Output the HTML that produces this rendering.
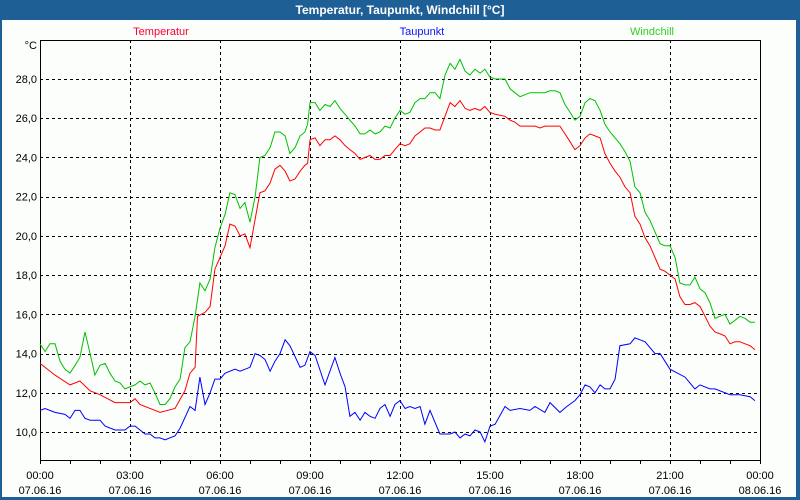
<!DOCTYPE html>
<html><head><meta charset="utf-8">
<style>
html,body{margin:0;padding:0;background:#1e5f96;}
#wrap{position:relative;width:800px;height:500px;overflow:hidden;background:#1e5f96;font-family:"Liberation Sans",sans-serif;}
#title{position:absolute;left:0;top:0;width:800px;height:20px;line-height:20px;text-align:center;color:#fff;font-weight:bold;font-size:12px;}
#panel{position:absolute;left:2px;top:20px;width:794px;height:477px;background:#fcfefc;}
svg{position:absolute;left:0;top:0;}
</style></head><body>
<div id="wrap">
<div id="title">Temperatur, Taupunkt, Windchill [°C]</div>
<div id="panel"></div>
<svg id="chart" width="800" height="500"></svg>
</div>
<script>
const tempHours=[0,0.5,1,1.33,1.67,2,2.5,3,3.17,3.33,4,4.5,4.83,5,5.17,5.25,5.5,5.67,5.83,6,6.17,6.33,6.5,6.67,6.83,7,7.33,7.5,7.67,7.83,8,8.17,8.33,8.5,8.67,8.83,8.92,9,9.17,9.33,9.5,9.67,9.83,10,10.17,10.33,10.5,10.67,10.83,11,11.17,11.33,11.5,11.67,11.83,12,12.17,12.33,12.5,12.67,12.83,13,13.17,13.33,13.5,13.67,13.83,14,14.17,14.33,14.5,14.67,14.83,15,15.17,15.5,15.67,15.83,16,16.5,16.67,16.83,17,17.17,17.33,17.5,17.67,17.83,18,18.17,18.33,18.5,18.67,18.83,19,19.17,19.33,19.5,19.67,19.83,20,20.17,20.33,20.5,20.67,20.83,21,21.17,21.33,21.5,21.67,21.83,22,22.17,22.33,22.5,22.67,22.83,23,23.17,23.33,23.5,23.67,23.83];
const tempValues=[13.5,12.9,12.4,12.6,12.1,11.9,11.5,11.5,11.7,11.4,11.0,11.2,12.1,13.0,13.3,15.9,16.1,16.4,18.3,18.9,19.5,20.6,20.5,20.0,20.1,19.4,22.2,22.3,22.7,23.4,23.6,23.3,22.8,22.9,23.3,23.6,23.7,24.9,25.0,24.6,24.9,24.9,25.1,24.9,24.6,24.4,24.2,23.9,24.0,24.1,23.9,23.9,24.1,24.1,24.4,24.7,24.6,24.7,25.1,25.3,25.5,25.5,25.4,25.4,26.1,26.8,26.6,26.9,26.5,26.4,26.5,26.4,26.6,26.3,26.2,26.1,25.9,25.8,25.6,25.6,25.5,25.6,25.6,25.6,25.6,25.2,24.8,24.4,24.6,25.0,25.2,25.1,25.0,24.2,23.7,23.3,23.0,22.5,22.2,21.0,20.6,19.9,19.5,18.9,18.3,18.2,18.0,17.8,16.9,16.5,16.5,16.6,16.4,15.9,15.4,15.1,15.0,14.9,14.5,14.6,14.6,14.5,14.4,14.2];
const windHours=[0,0.17,0.33,0.5,0.67,0.83,1,1.17,1.33,1.5,1.67,1.83,2,2.17,2.33,2.5,2.67,2.83,3,3.17,3.33,3.5,3.67,3.83,4,4.17,4.33,4.5,4.67,4.83,5,5.17,5.33,5.5,5.67,5.83,6,6.17,6.33,6.5,6.67,6.83,7,7.17,7.33,7.5,7.67,7.83,8,8.17,8.33,8.5,8.67,8.83,8.92,9,9.17,9.33,9.5,9.67,9.83,10,10.17,10.33,10.5,10.67,10.83,11,11.17,11.33,11.5,11.67,11.83,12,12.17,12.33,12.5,12.67,12.83,13,13.17,13.33,13.5,13.67,13.83,14,14.17,14.33,14.5,14.67,14.83,15,15.17,15.5,15.67,15.83,16,16.17,16.33,16.67,16.83,17,17.17,17.33,17.5,17.67,17.83,18,18.17,18.33,18.5,18.67,18.83,19,19.17,19.33,19.5,19.67,19.83,20,20.17,20.33,20.5,20.67,20.83,21,21.17,21.33,21.5,21.67,21.83,22,22.17,22.33,22.5,22.67,22.83,23,23.17,23.33,23.5,23.67,23.83];
const windValues=[14.5,14.1,14.5,14.5,13.6,13.2,13.0,13.4,13.8,15.1,14.0,12.9,13.4,13.5,13.0,12.6,12.5,12.2,12.3,12.4,12.6,12.4,12.5,12.0,11.4,11.4,11.7,12.3,12.7,14.3,14.6,15.9,17.6,17.2,17.8,19.4,20.4,21.1,22.2,22.1,21.4,21.7,20.7,22.0,24.0,24.1,24.5,25.3,25.3,25.1,24.2,24.5,25.1,25.3,25.7,26.8,26.8,26.4,26.7,26.6,26.9,26.5,26.2,25.9,25.6,25.2,25.2,25.4,25.2,25.3,25.6,25.5,26.0,26.4,26.2,26.3,26.8,27.0,27.0,27.3,27.3,27.0,28.2,28.8,28.5,29.0,28.4,28.2,28.5,28.3,28.5,28.1,28.0,28.0,27.5,27.3,27.1,27.2,27.3,27.3,27.3,27.4,27.4,27.3,26.7,26.3,25.9,26.1,26.8,27.0,26.9,26.4,25.7,25.3,25.0,24.7,24.3,23.8,22.5,22.2,21.2,20.8,20.2,19.6,19.5,19.5,18.9,17.6,17.5,17.5,17.9,17.3,17.1,16.6,15.8,15.9,16.0,15.5,15.7,15.9,15.8,15.6,15.6];
const dewHours=[0,0.17,0.5,0.83,1,1.17,1.33,1.5,1.67,2,2.17,2.5,2.67,2.83,3,3.17,3.5,3.67,3.83,4,4.17,4.5,4.67,5,5.17,5.33,5.5,5.67,5.83,6,6.17,6.5,6.67,7,7.17,7.33,7.5,7.67,7.83,8,8.17,8.33,8.67,8.83,9,9.17,9.5,9.83,10,10.17,10.33,10.5,10.67,10.83,11,11.17,11.33,11.5,11.67,11.83,12,12.17,12.33,12.5,12.67,12.83,13,13.33,13.67,13.83,14,14.17,14.33,14.5,14.67,14.83,15,15.17,15.5,15.67,16,16.33,16.5,16.83,17,17.33,17.56,17.83,18,18.17,18.33,18.5,18.67,18.83,19,19.17,19.33,19.67,19.83,20,20.17,20.5,20.67,21,21.5,21.83,22,22.33,22.5,23,23.33,23.67,23.83];
const dewValues=[11.1,11.2,11.0,10.9,10.7,11.1,11.1,10.7,10.6,10.6,10.3,10.1,10.1,10.1,10.3,10.3,9.9,9.9,9.7,9.7,9.6,9.8,10.2,11.3,11.1,12.8,11.4,12.0,12.7,12.7,13.0,13.2,13.1,13.3,14.0,13.9,13.7,13.1,13.6,14.0,14.7,14.4,13.3,13.4,14.1,13.9,12.4,13.8,13.0,12.3,10.8,11.0,10.6,11.0,10.8,10.7,11.2,11.4,10.8,11.4,11.6,11.2,11.3,11.2,11.3,10.4,11.1,9.9,9.9,10.0,9.7,9.9,9.8,10.1,10.0,9.5,10.3,10.4,11.3,11.1,11.2,11.1,11.3,11.0,11.5,11.0,11.3,11.6,11.9,12.4,12.3,12.0,12.4,12.2,12.2,12.7,14.4,14.5,14.8,14.7,14.6,14.0,14.0,13.2,12.8,12.2,12.4,12.2,12.2,11.9,11.9,11.8,11.6];
const yTicks=[10,12,14,16,18,20,22,24,26,28];
const yTickLabels=["10,0","12,0","14,0","16,0","18,0","20,0","22,0","24,0","26,0","28,0"];
const xTicks=[0,3,6,9,12,15,18,21,24];
const xTimeLabels=["00:00","03:00","06:00","09:00","12:00","15:00","18:00","21:00","00:00"];
const xDateLabels=["07.06.16","07.06.16","07.06.16","07.06.16","07.06.16","07.06.16","07.06.16","07.06.16","08.06.16"];

const NS="http://www.w3.org/2000/svg";
const svg=document.getElementById('chart');
const L=40,R=760,T=40,B=460;
function xs(h){return L+h*(R-L)/24;}
function ys(v){return 432-(v-10)*19.61;}
function mk(tag,attrs,text){const e=document.createElementNS(NS,tag);for(const k in attrs)e.setAttribute(k,attrs[k]);if(text!==undefined)e.textContent=text;svg.appendChild(e);return e;}

// grid
yTicks.forEach((v,i)=>{
  const g=mk('line',{x1:L,x2:R,y1:Math.round(ys(v))+0.5,y2:Math.round(ys(v))+0.5,stroke:'#000','stroke-width':1,'stroke-dasharray':'3,3'});
  
  
  const t=mk('text',{x:37,y:ys(v)+4,'text-anchor':'end','font-size':'11px',fill:'#000','font-family':'Liberation Sans, sans-serif'},yTickLabels[i]);
  
  
});
xTicks.forEach((h,i)=>{
  if(i>0&&i<xTicks.length-1){
    const g=mk('line',{x1:Math.round(xs(h))+0.5,x2:Math.round(xs(h))+0.5,y1:T,y2:B,stroke:'#000','stroke-width':1,'stroke-dasharray':'3,3'});
    
    
  }
  const t1=mk('text',{x:xs(h),y:479,'text-anchor':'middle','font-size':'11px',fill:'#000','font-family':'Liberation Sans, sans-serif'},xTimeLabels[i]);
  
  
  const t2=mk('text',{x:xs(h),y:494,'text-anchor':'middle','font-size':'11px',fill:'#000','font-family':'Liberation Sans, sans-serif'},xDateLabels[i]);
  
  
});
for(let h=0;h<=24;h++){
  const tk=mk('line',{x1:Math.round(xs(h))+0.5,x2:Math.round(xs(h))+0.5,y1:B,y2:B+4,stroke:'#000','stroke-width':1});
  
  
}
const frame=mk('rect',{x:L+0.5,y:T+0.5,width:R-L,height:B-T,fill:'none',stroke:'#000','stroke-width':1});



function series(hours,vals,color,name){
  const pts=hours.map((h,i)=>xs(h).toFixed(1)+','+ys(vals[i]).toFixed(1)).join(' ');
  const p=mk('polyline',{points:pts,fill:'none',stroke:color,'stroke-width':1});
  
  
}
series(windHours,windValues,'#00c000','windchill-line');
series(tempHours,tempValues,'#ff0000','temperatur-line');
series(dewHours,dewValues,'#0000ff','taupunkt-line');

const unit=mk('text',{x:37,y:49,'text-anchor':'end','font-size':'11px',fill:'#000','font-family':'Liberation Sans, sans-serif'},'°C');


const lg1=mk('text',{x:161,y:35,'text-anchor':'middle','font-size':'11px',fill:'#ff0030','font-family':'Liberation Sans, sans-serif'},'Temperatur');


const lg2=mk('text',{x:422,y:35,'text-anchor':'middle','font-size':'11px',fill:'#1010ff','font-family':'Liberation Sans, sans-serif'},'Taupunkt');


const lg3=mk('text',{x:652,y:35,'text-anchor':'middle','font-size':'11px',fill:'#30d020','font-family':'Liberation Sans, sans-serif'},'Windchill');


</script>
</body></html>
